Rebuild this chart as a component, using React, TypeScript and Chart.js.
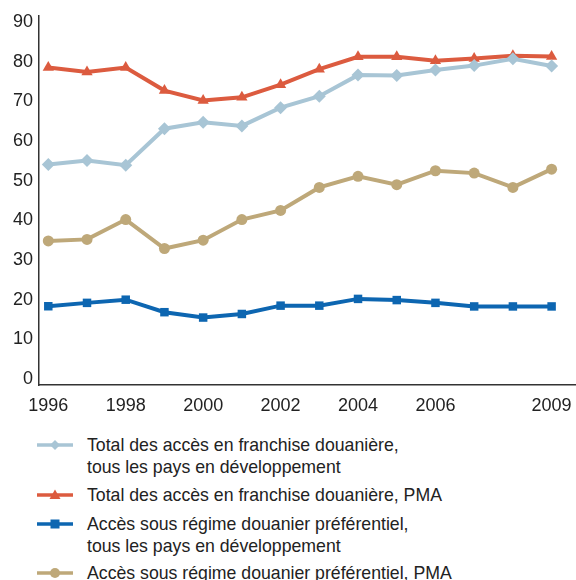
import React, { useEffect, useRef } from "react";
import { Chart, registerables } from "chart.js";

Chart.register(...registerables);

const years = [1996, 1997, 1998, 1999, 2000, 2001, 2002, 2003, 2004, 2005, 2006, 2007, 2008, 2009];
const totalDeveloping = [54.1, 55.1, 53.9, 63.1, 64.7, 63.8, 68.4, 71.3, 76.6, 76.5, 77.9, 79.0, 80.7, 78.9];
const totalLDC = [78.5, 77.4, 78.5, 72.7, 70.2, 71.0, 74.2, 78.1, 81.2, 81.2, 80.2, 80.8, 81.5, 81.3];
const prefDeveloping = [18.35, 19.2, 20.0, 16.85, 15.5, 16.4, 18.5, 18.5, 20.2, 19.9, 19.2, 18.3, 18.3, 18.3];
const prefLDC = [34.8, 35.2, 40.2, 32.9, 35.0, 40.2, 42.5, 48.3, 51.1, 49.0, 52.5, 51.9, 48.3, 52.9];
const xTickValues = [1996, 1998, 2000, 2002, 2004, 2006, 2009];
const yTickValues = [0, 10, 20, 30, 40, 50, 60, 70, 80, 90];

const labels = [
  ["Total des accès en franchise douanière,", "tous les pays en développement"],
  ["Total des accès en franchise douanière, PMA"],
  ["Accès sous régime douanier préférentiel,", "tous les pays en développement"],
  ["Accès sous régime douanier préférentiel, PMA"],
];

const colors = ["#a8c5d5", "#dc5b3f", "#0d66b1", "#bea879"];
const styles = ["rectRot", "triangle", "rect", "circle"];
const radii = [6.5, 6.5, 6, 5.5];
const seriesData = [totalDeveloping, totalLDC, prefDeveloping, prefLDC];

const FONT = "'Liberation Sans', Arial, sans-serif";

function Marker({ i }: { i: number }) {
  const c = colors[i];
  let shape: React.ReactNode = null;
  if (i === 0) shape = <polygon points="18,1 23,6 18,11 13,6" fill={c} />;
  if (i === 1) shape = <polygon points="18,0.5 23.5,10 12.5,10" fill={c} />;
  if (i === 2) shape = <rect x="13.5" y="1.5" width="9" height="9" fill={c} />;
  if (i === 3) shape = <circle cx="18" cy="6" r="5" fill={c} />;
  return (
    <svg width="36" height="12" style={{ display: "block" }}>
      <line x1="0" y1="6" x2="36" y2="6" stroke={c} strokeWidth="3.5" />
      {shape}
    </svg>
  );
}

export default function App() {
  const ref = useRef<HTMLCanvasElement | null>(null);

  useEffect(() => {
    if (!ref.current) return;
    const chart = new Chart(ref.current, {
      type: "line",
      data: {
        datasets: seriesData.map((d, i) => ({
          label: labels[i].join(" "),
          data: d.map((v, j) => ({ x: years[j], y: v })),
          borderColor: colors[i],
          backgroundColor: colors[i],
          borderWidth: 4,
          pointStyle: styles[i] as any,
          pointRadius: radii[i],
          pointBorderWidth: 0,
          tension: 0,
          clip: 10,
        })),
      },
      options: {
        animation: false,
        responsive: false,
        layout: { autoPadding: false, padding: { top: 16, right: 0, left: 0, bottom: 0 } },
        plugins: { legend: { display: false }, tooltip: { enabled: false } },
        scales: {
          x: {
            type: "linear",
            min: 1995.76,
            max: 2009.63,
            grid: { display: false, drawTicks: false },
            border: { display: true, color: "#333", width: 1.5 },
            afterBuildTicks: (axis: any) => {
              axis.ticks = xTickValues.map((v) => ({ value: v }));
            },
            afterFit: (axis: any) => {
              axis.height = 35;
              axis.paddingRight = 0;
              axis.paddingLeft = 0;
            },
            ticks: {
              autoSkip: false,
              maxRotation: 0,
              padding: 10,
              color: "#222",
              font: { family: FONT, size: 18 },
              callback: (v: any) => String(v),
            },
          },
          y: {
            min: -1.5,
            max: 91.5,
            grid: { display: false, drawTicks: false },
            border: { display: true, color: "#333", width: 1.5 },
            afterBuildTicks: (axis: any) => {
              axis.ticks = yTickValues.map((v) => ({ value: v }));
            },
            afterFit: (axis: any) => {
              axis.width = 39;
              axis.paddingTop = 0;
              axis.paddingBottom = 0;
            },
            ticks: {
              padding: 6,
              color: "#222",
              font: { family: FONT, size: 18 },
            },
          },
        },
      },
    });
    return () => chart.destroy();
  }, []);

  const legendTops = [436, 486, 515, 564];

  return (
    <div style={{ position: "absolute", left: 0, top: 0, width: 576, height: 580, background: "#fff", overflow: "hidden" }}>
      <canvas ref={ref} width={576} height={420} style={{ position: "absolute", left: 0, top: 0 }} />
      {labels.map((lines, i) => (
        <div key={i} style={{ position: "absolute", left: 37, top: legendTops[i], display: "flex", alignItems: "flex-start" }}>
          <div style={{ marginTop: 3, width: 36 }}>
            <Marker i={i} />
          </div>
          <div style={{ marginLeft: 14, fontFamily: FONT, fontSize: 17.7, lineHeight: "22px", color: "#222", whiteSpace: "nowrap" }}>
            {lines.map((l, k) => (
              <div key={k} style={{ marginTop: k === 0 ? -2 : 0 }}>{l}</div>
            ))}
          </div>
        </div>
      ))}
    </div>
  );
}
